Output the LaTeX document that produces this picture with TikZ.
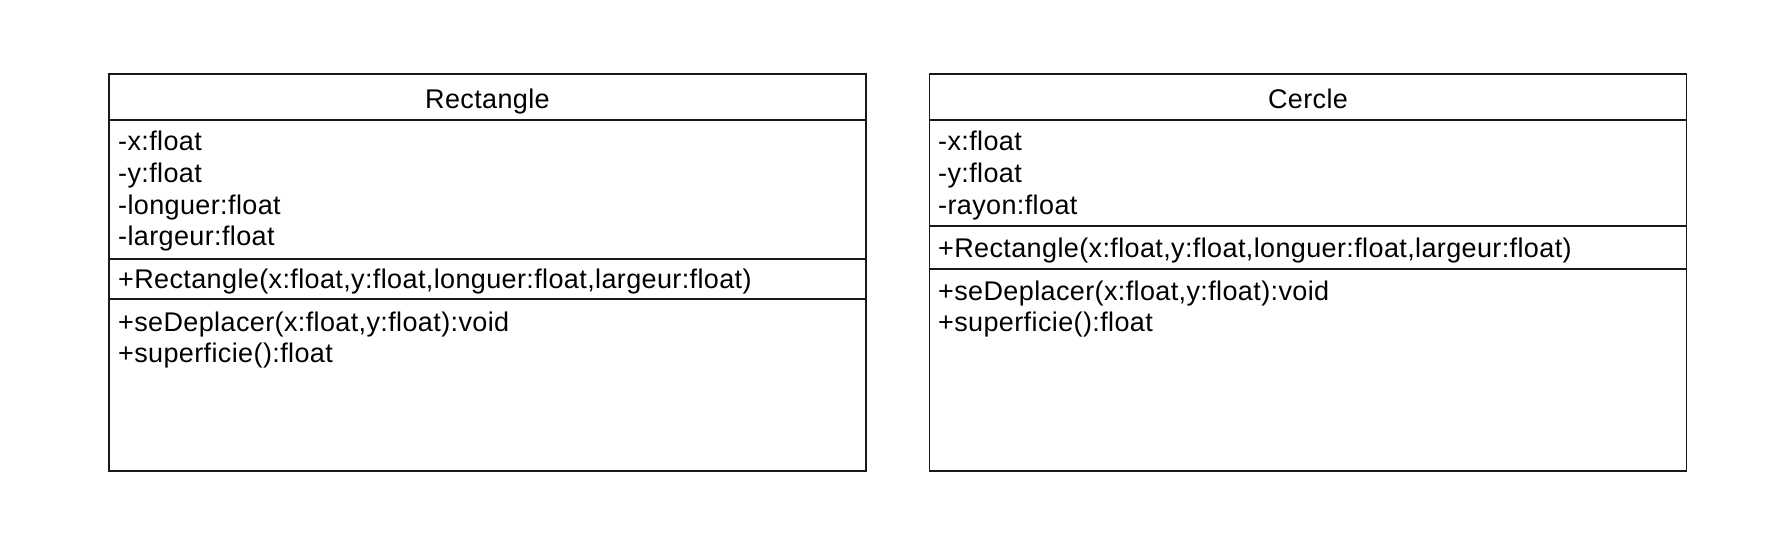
\documentclass[tikz,border=0pt]{standalone}
\usepackage{fontspec}
\newfontfamily\umlfont{Liberation Sans}[LetterSpace=1.4]
\begin{document}
\begin{tikzpicture}[x=1pt,y=-1pt,
  classbox/.style={draw=black!90, line width=1.9pt, inner sep=0pt, minimum width=757pt, minimum height=397pt},
  sep/.style={draw=black!90, line width=1.9pt},
  txt/.style={inner sep=0pt, anchor=base west, font=\umlfont\fontsize{27}{30}\selectfont},
  title/.style={inner sep=0pt, anchor=base, font=\umlfont\fontsize{27}{30}\selectfont}]
\useasboundingbox (0,0) rectangle (1775,559);
% Rectangle class
\node[classbox] (rbox) at (487.5,272.8) {};
\coordinate (rs1) at (0,120.3);
\coordinate (rs2) at (0,259);
\coordinate (rs3) at (0,299.3);
\draw[sep] (rbox.west |- rs1) -- (rbox.east |- rs1);
\draw[sep] (rbox.west |- rs2) -- (rbox.east |- rs2);
\draw[sep] (rbox.west |- rs3) -- (rbox.east |- rs3);
\node[title] (rt) at (487.5,109) {Rectangle};
\node[txt] (ra1) at (118,150.7) {-x:float};
\node[txt] (ra2) at (118,182.4) {-y:float};
\node[txt] (ra3) at (118,214.1) {-longuer:float};
\node[txt] (ra4) at (118,245.8) {-largeur:float};
\node[txt] (rc1) at (118,288.8) {+Rectangle(x:float,y:float,longuer:float,largeur:float)};
\node[txt] (rm1) at (118,331.2) {+seDeplacer(x:float,y:float):void};
\node[txt] (rm2) at (118,362.9) {+superficie():float};
% Cercle class
\node[classbox] (cbox) at (1308,272.8) {};
\coordinate (cs1) at (0,120.3);
\coordinate (cs2) at (0,226);
\coordinate (cs3) at (0,268.7);
\draw[sep] (cbox.west |- cs1) -- (cbox.east |- cs1);
\draw[sep] (cbox.west |- cs2) -- (cbox.east |- cs2);
\draw[sep] (cbox.west |- cs3) -- (cbox.east |- cs3);
\node[title] (ct) at (1308,109) {Cercle};
\node[txt] (ca1) at (938,150.7) {-x:float};
\node[txt] (ca2) at (938,182.4) {-y:float};
\node[txt] (ca3) at (938,214.1) {-rayon:float};
\node[txt] (cc1) at (938,257.3) {+Rectangle(x:float,y:float,longuer:float,largeur:float)};
\node[txt] (cm1) at (938,300) {+seDeplacer(x:float,y:float):void};
\node[txt] (cm2) at (938,331.7) {+superficie():float};
\end{tikzpicture}
\end{document}
